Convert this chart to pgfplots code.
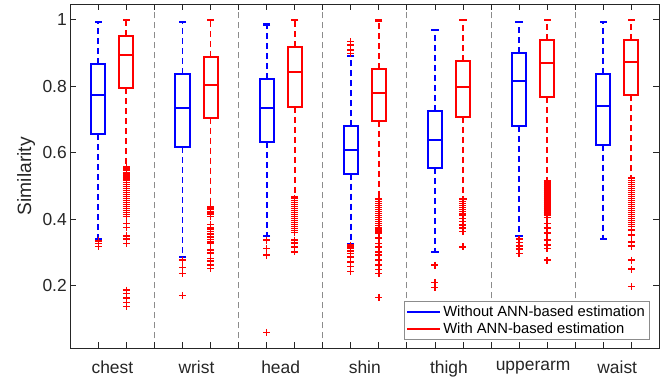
\documentclass[border=0pt]{standalone}
\usepackage{fontspec}
\setmainfont{Liberation Sans}
\usepackage{pgfplots}
\pgfplotsset{compat=1.18}
\definecolor{axgray}{rgb}{0.15,0.15,0.15}
\definecolor{sepgray}{rgb}{0.55,0.55,0.55}
\definecolor{bblue}{rgb}{0,0,1}
\definecolor{rred}{rgb}{1,0,0}
% #1 colour, #2 position, #3 box left, #4 box right, #5 lower whisker, #6 lower quartile, #7 median, #8 upper quartile, #9 upper whisker
\newcommand{\drawbox}[9]{%
\addplot[draw=#1, solid, line width=2bp, forget plot] coordinates {(#2,#6) (#4,#6) (#4,#8) (#3,#8) (#3,#6) (#2,#6)};
\addplot[draw=#1, solid, line width=2bp, forget plot] coordinates {(#3,#7) (#4,#7)};
\addplot[draw=#1, dash pattern=on 6bp off 4bp, line width=1.8bp, forget plot] coordinates {(#2,#8) (#2,#9)};
\addplot[draw=#1, dash pattern=on 6bp off 4bp, line width=1.8bp, forget plot] coordinates {(#2,#6) (#2,#5)};
\addplot[draw=#1, only marks, mark=-, mark size=3.6bp, mark options={draw=#1, solid, line width=2.2bp}, forget plot] coordinates {(#2,#9) (#2,#5)};
}
\pgfplotsset{
  outl/.style={only marks, mark=+, mark size=3.5bp, mark options={draw=rred, solid, line width=1.4bp}, forget plot},
}
\begin{document}
\begin{tikzpicture}
\begin{axis}[
  name=ax,
  scale only axis, width=589bp, height=344bp,
  xmin=0, xmax=21, ymin=0.012, ymax=1.046,
  xtick={1,...,20}, xticklabels={},
  minor xtick={3,6,9,12,15,18},
  xminorgrids, minor grid style={sepgray, line width=0.9bp, dash pattern=on 6bp off 4bp},
  minor tick length=0pt,
  extra x ticks={1.5,4.5,7.5,10.5,13.5,16.5,19.5},
  extra x tick labels={chest,wrist,head,shin,thigh,upperarm,waist},
  extra x tick style={major tick length=0pt, xticklabel style={yshift=-9bp}},
  ytick={0.2,0.4,0.6,0.8,1},
  yticklabels={0.2,0.4,0.6,0.8,1},
  major tick length=6bp,
  tick align=inside,
  axis line style={axgray, line width=0.8bp},
  every tick/.style={axgray, line width=0.8bp},
  tick label style={font=\fontsize{17.5}{20}\selectfont, text=axgray},
  /pgf/number format/assume math mode=true,
  ylabel={Similarity},
  ylabel style={at={(axis description cs:-0.075,0.5)}, anchor=center, font=\fontsize{19.3}{22}\selectfont, text=axgray},
  legend style={at={(rel axis cs:1,0)}, anchor=south east, xshift=-10bp, yshift=9bp,
    font=\fontsize{14.8}{17}\selectfont, draw=black!45, line width=0.8bp, inner sep=2bp,
    row sep=1bp, text=black, /tikz/every even column/.style={column sep=3bp}},
  legend cell align=left,
  legend image code/.code={\draw[#1] (0bp,0bp) -- (33bp,0bp);},
]
\addlegendimage{draw=bblue, solid, line width=2bp}
\addlegendentry{Without ANN-based estimation}
\addlegendimage{draw=rred, solid, line width=2bp}
\addlegendentry{With ANN-based estimation}

% chest
\drawbox{bblue}{1}{0.75}{1.25}{0.341}{0.655}{0.774}{0.868}{0.993}
\drawbox{rred}{2}{1.75}{2.25}{0.558}{0.794}{0.895}{0.952}{0.999}
% wrist
\drawbox{bblue}{4}{3.75}{4.25}{0.286}{0.617}{0.735}{0.837}{0.993}
\drawbox{rred}{5}{4.75}{5.25}{0.436}{0.705}{0.804}{0.887}{0.999}
% head
\drawbox{bblue}{7}{6.75}{7.25}{0.350}{0.632}{0.735}{0.821}{0.985}
\drawbox{rred}{8}{7.75}{8.25}{0.465}{0.736}{0.844}{0.919}{0.999}
% shin
\drawbox{bblue}{10}{9.75}{10.25}{0.326}{0.537}{0.608}{0.679}{0.891}
\drawbox{rred}{11}{10.75}{11.25}{0.461}{0.696}{0.780}{0.852}{0.997}
% thigh
\drawbox{bblue}{13}{12.75}{13.25}{0.302}{0.554}{0.639}{0.726}{0.969}
\drawbox{rred}{14}{13.75}{14.25}{0.461}{0.708}{0.796}{0.876}{0.999}
% upperarm
\drawbox{bblue}{16}{15.75}{16.25}{0.350}{0.679}{0.814}{0.900}{0.992}
\drawbox{rred}{17}{16.75}{17.25}{0.515}{0.768}{0.871}{0.939}{0.999}
% waist
\drawbox{bblue}{19}{18.75}{19.25}{0.341}{0.624}{0.740}{0.837}{0.993}
\drawbox{rred}{20}{19.75}{20.25}{0.523}{0.773}{0.874}{0.939}{0.999}

% outliers
\addplot[outl] coordinates {(1,0.335) (1,0.327) (1,0.318)};
\addplot[outl] coordinates {(2,0.556) (2,0.551) (2,0.546) (2,0.541) (2,0.536) (2,0.530) (2,0.524) (2,0.518) (2,0.511) (2,0.505) (2,0.499) (2,0.493) (2,0.487) (2,0.481) (2,0.475) (2,0.469) (2,0.463) (2,0.457) (2,0.451) (2,0.445) (2,0.439) (2,0.433) (2,0.427) (2,0.421) (2,0.415) (2,0.409) (2,0.388) (2,0.376) (2,0.350) (2,0.340) (2,0.327) (2,0.187) (2,0.177) (2,0.163) (2,0.150) (2,0.137)};
\addplot[outl] coordinates {(4,0.277) (4,0.254) (4,0.237) (4,0.170)};
\addplot[outl] coordinates {(5,0.434) (5,0.429) (5,0.424) (5,0.419) (5,0.414) (5,0.409) (5,0.385) (5,0.376) (5,0.370) (5,0.363) (5,0.356) (5,0.347) (5,0.339) (5,0.332) (5,0.327) (5,0.307) (5,0.299) (5,0.282) (5,0.275) (5,0.262) (5,0.252)};
\addplot[outl] coordinates {(7,0.337) (7,0.312) (7,0.292) (7,0.060)};
\addplot[outl] coordinates {(8,0.462) (8,0.456) (8,0.450) (8,0.444) (8,0.438) (8,0.432) (8,0.426) (8,0.420) (8,0.414) (8,0.408) (8,0.402) (8,0.396) (8,0.390) (8,0.384) (8,0.378) (8,0.372) (8,0.366) (8,0.360) (8,0.337) (8,0.329) (8,0.317) (8,0.302)};
\addplot[outl] coordinates {(10,0.934) (10,0.924) (10,0.909) (10,0.899) (10,0.322) (10,0.317) (10,0.312) (10,0.305) (10,0.297) (10,0.287) (10,0.272) (10,0.257) (10,0.242)};
\addplot[outl] coordinates {(11,0.460) (11,0.454) (11,0.448) (11,0.442) (11,0.436) (11,0.430) (11,0.424) (11,0.418) (11,0.412) (11,0.406) (11,0.400) (11,0.394) (11,0.388) (11,0.382) (11,0.376) (11,0.370) (11,0.364) (11,0.358) (11,0.343) (11,0.327) (11,0.317) (11,0.302) (11,0.292) (11,0.277) (11,0.262) (11,0.249) (11,0.237) (11,0.165)};
\addplot[outl] coordinates {(13,0.262) (13,0.210) (13,0.194)};
\addplot[outl] coordinates {(14,0.460) (14,0.454) (14,0.448) (14,0.442) (14,0.436) (14,0.430) (14,0.424) (14,0.418) (14,0.413) (14,0.403) (14,0.393) (14,0.383) (14,0.373) (14,0.363) (14,0.317)};
\addplot[outl] coordinates {(16,0.340) (16,0.330) (16,0.320) (16,0.310) (16,0.297)};
\addplot[outl] coordinates {(17,0.515) (17,0.509) (17,0.503) (17,0.497) (17,0.491) (17,0.485) (17,0.479) (17,0.473) (17,0.467) (17,0.461) (17,0.455) (17,0.449) (17,0.443) (17,0.437) (17,0.431) (17,0.425) (17,0.419) (17,0.413) (17,0.405) (17,0.388) (17,0.373) (17,0.358) (17,0.337) (17,0.322) (17,0.312) (17,0.277)};
\addplot[outl] coordinates {(20,0.522) (20,0.516) (20,0.510) (20,0.504) (20,0.498) (20,0.492) (20,0.486) (20,0.480) (20,0.474) (20,0.468) (20,0.462) (20,0.456) (20,0.450) (20,0.444) (20,0.438) (20,0.432) (20,0.426) (20,0.420) (20,0.414) (20,0.408) (20,0.402) (20,0.396) (20,0.390) (20,0.384) (20,0.378) (20,0.368) (20,0.352) (20,0.332) (20,0.319) (20,0.277) (20,0.250) (20,0.197)};
\end{axis}
\pgfresetboundingbox
\path[use as bounding box] ([shift={(-70.3bp,-35.7bp)}]ax.south west) rectangle ([shift={(7.7bp,4.3bp)}]ax.north east);
\end{tikzpicture}
\end{document}
